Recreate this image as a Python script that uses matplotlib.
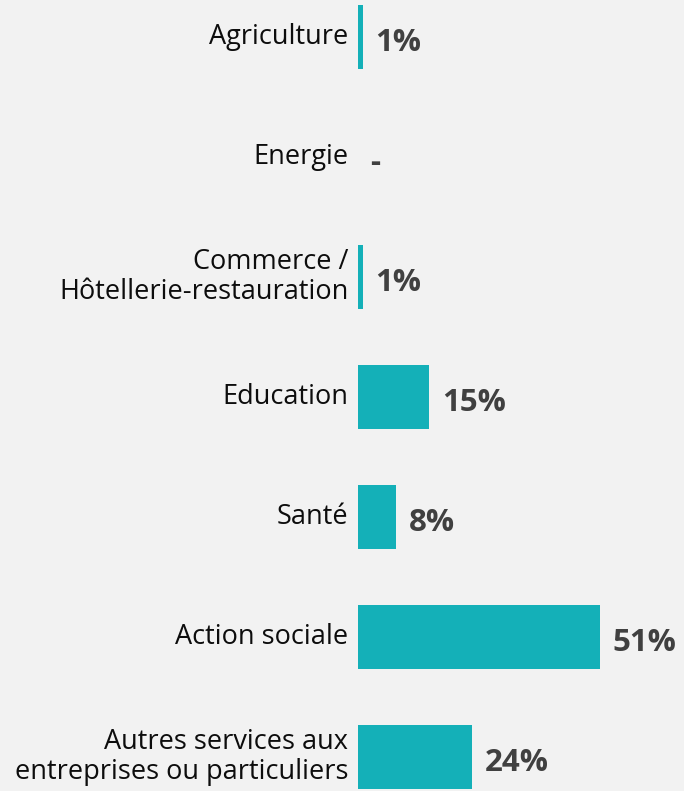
import matplotlib.pyplot as plt

# data (top to bottom)
categories = ["Agriculture", "Energie", "Commerce /\nHôtellerie-restauration",
              "Education", "Santé", "Action sociale",
              "Autres services aux\nentreprises ou particuliers"]
values = [1, 0, 1, 15, 8, 51, 24]
value_labels = ["1%", "-", "1%", "15%", "8%", "51%", "24%"]

bg = "#F2F2F2"
teal = "#14B0B8"

plt.rcParams['font.family'] = ['Open Sans', 'DejaVu Sans']

fig = plt.figure(figsize=(6.84, 7.91), dpi=100, facecolor=bg)
ax = fig.add_axes([358 / 684, 0, 1 - 358 / 684, 1])
ax.set_facecolor(bg)

pos = list(range(len(categories)))
ax.barh(pos, values, height=0.533, color=teal)

ax.set_xlim(0, 326 / 4.75)
ax.set_ylim(6.283, -0.308)

for y, v, lab, txt in zip(pos, values, categories, value_labels):
    ax.annotate(lab, (0, y), xytext=(-7, 0), textcoords="offset points",
                ha="right", va="center", fontsize=19.5, color="#0D0D0D",
                linespacing=1.1, annotation_clip=False)
    ax.annotate(txt, (v, y), xytext=(9, -4), textcoords="offset points",
                ha="left", va="center", fontsize=22.5, fontweight="bold",
                color="#404040")

ax.axis("off")

fig.savefig("out.png", dpi=100, facecolor=bg)
